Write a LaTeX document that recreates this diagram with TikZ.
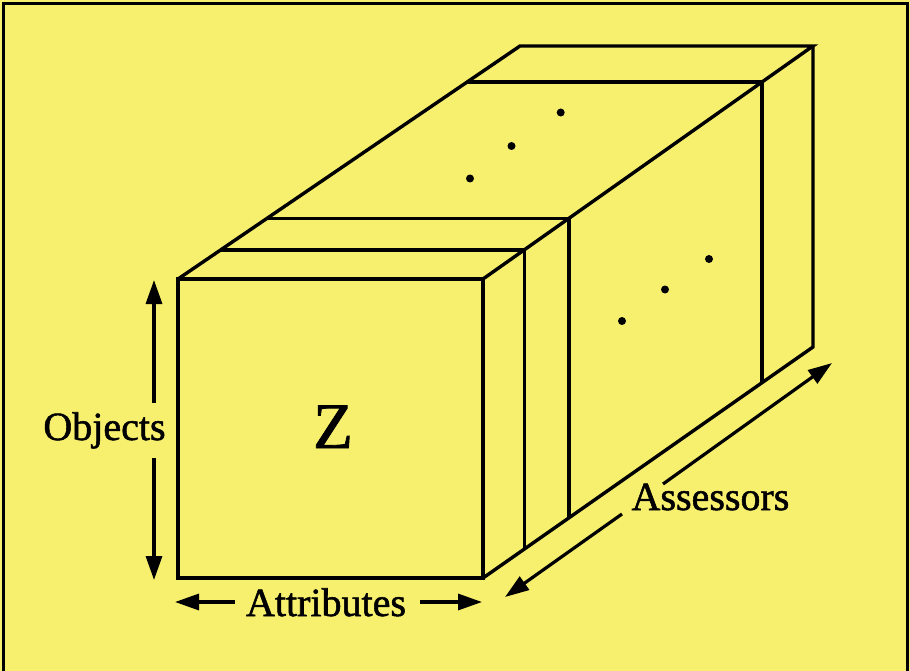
\documentclass[tikz,border=0pt]{standalone}
\usepackage{fontspec}
\setmainfont{Liberation Serif}
\newfontfamily\heavyserif{Liberation Serif}[FakeBold=1.3]
\usetikzlibrary{arrows.meta}
\definecolor{bgyellow}{RGB}{247,240,110}
\tikzset{
  edge/.style={line width=3.4pt, line join=miter, black},
  dimarrow/.style={line width=3.2pt, -{Triangle[length=24pt,width=16pt]}},
  lbl/.style={inner sep=0pt, anchor=base, font=\heavyserif\fontsize{40}{48}\selectfont},
  dotmark/.style={fill=black, draw=none}
}
\begin{document}
\begin{tikzpicture}[x=1pt,y=-1pt]
\useasboundingbox (0,0) rectangle (910,671);
\fill[bgyellow] (0,0) rectangle (910,671);
\draw[line width=3pt] (3.5,4) rectangle (907,690);
% box corners
\coordinate (FTL) at (178,279);
\coordinate (FTR) at (483,279);
\coordinate (FBR) at (483,578);
\coordinate (FBL) at (178,578);
\coordinate (BTL) at (520,46);
\coordinate (BTR) at (813,46);
\coordinate (BBR) at (813,347);
% dividers
\coordinate (P1) at (220.75,249.9); \coordinate (Q1) at (524.2,249.9); \coordinate (R1) at (524.2,549.1);
\coordinate (P2) at (266.9,218.4); \coordinate (Q2) at (568.8,218.4); \coordinate (R2) at (568.8,518);
\coordinate (P3) at (467,82.1); \coordinate (Q3) at (761.9,82.1); \coordinate (R3) at (761.9,382.8);
\draw[edge] (FTL) rectangle (FBR);
\draw[edge] (FTL) -- (BTL) -- (BTR) -- (FTR);
\draw[edge] (BTR) -- (BBR) -- (FBR);
\draw[edge] (P1) -- (Q1) -- (R1);
\draw[edge] (P2) -- (Q2) -- (R2);
\draw[edge] (P3) -- (Q3) -- (R3);
% dots
\foreach \p in {(470,178.5),(511.5,146),(560.7,112.5),(622,321),(665,289.5),(709,259)}
  \fill[dotmark] \p circle (4);
% labels
\node[lbl, font=\heavyserif\fontsize{65}{70}\selectfont] (z) at (333,448) {Z};
\node[lbl] (obj) at (104.5,440) {Objects};
\node[lbl] (attr) at (326,616) {Attributes};
\node[lbl] (ass) at (710.5,510) {Assessors};
% arrows
\coordinate (objTop) at (154,280);
\coordinate (objTopEnd) at (154,403);
\coordinate (objBot) at (154,580);
\coordinate (objBotEnd) at (154,458);
\draw[dimarrow] (objTopEnd) -- (objTop);
\draw[dimarrow] (objBotEnd) -- (objBot);
\coordinate (attrL) at (175,602);
\coordinate (attrLEnd) at (235,602);
\coordinate (attrR) at (482,602);
\coordinate (attrREnd) at (420,602);
\draw[dimarrow] (attrLEnd) -- (attrL);
\draw[dimarrow] (attrREnd) -- (attrR);
\coordinate (assL) at (505,597);
\coordinate (assLEnd) at (622,514);
\coordinate (assR) at (832,363);
\coordinate (assREnd) at (663,484);
\draw[dimarrow] (assLEnd) -- (assL);
\draw[dimarrow] (assREnd) -- (assR);
\end{tikzpicture}
\end{document}
